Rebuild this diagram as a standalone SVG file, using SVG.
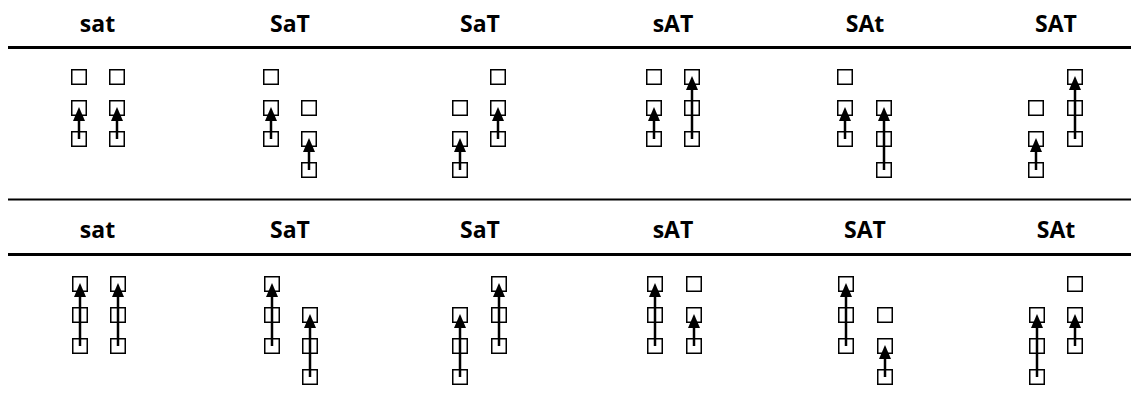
<svg xmlns="http://www.w3.org/2000/svg" width="1134" height="402" viewBox="0 0 1134 402">
<style>
.t{font-family:"Open Sans","Liberation Sans",sans-serif;font-weight:700;font-size:23px;text-anchor:middle;fill:#000}
.b{fill:#fff;stroke:#000;stroke-width:1.5}
.a{stroke:#000;stroke-width:2.5;fill:none;marker-end:url(#ah)}
.r{stroke:#000;fill:none}
</style>
<defs>
<marker id="ah" markerUnits="userSpaceOnUse" markerWidth="14" markerHeight="12" viewBox="0 0 14 12" refX="0" refY="6" orient="auto"><path d="M0,0 L14,6 L0,12 z" fill="#000"/></marker>
</defs>
<rect width="1134" height="402" fill="#fff"/>
<g id="rules">
<line class="r" x1="8" y1="47.5" x2="1131" y2="47.5" stroke-width="3"/>
<line class="r" x1="8" y1="199.5" x2="1131" y2="199.5" stroke-width="2" stroke="#222"/>
<line class="r" x1="8" y1="254.5" x2="1131" y2="254.5" stroke-width="3"/>
</g>
<g id="titles">
<text class="t" x="97.5" y="32">sat</text>
<text class="t" x="290" y="32">SaT</text>
<text class="t" x="480" y="32">SaT</text>
<text class="t" x="673" y="32">sAT</text>
<text class="t" x="865" y="32">SAt</text>
<text class="t" x="1056" y="32">SAT</text>
<text class="t" x="97.5" y="238">sat</text>
<text class="t" x="290" y="238">SaT</text>
<text class="t" x="480" y="238">SaT</text>
<text class="t" x="673" y="238">sAT</text>
<text class="t" x="865" y="238">SAT</text>
<text class="t" x="1056" y="238">SAt</text>
</g>
<!-- Row 1 boxes -->
<g id="r1p1">
<g id="r1p1a0"><rect class="b" x="71.75" y="69.75" width="14.5" height="14.5"/></g>
<g id="r1p1a1"><rect class="b" x="71.75" y="100.75" width="14.5" height="14.5"/></g>
<g id="r1p1a2"><rect class="b" x="71.75" y="131.75" width="14.5" height="14.5"/></g>
<g id="r1p1b0"><rect class="b" x="109.75" y="69.75" width="14.5" height="14.5"/></g>
<g id="r1p1b1"><rect class="b" x="109.75" y="100.75" width="14.5" height="14.5"/></g>
<g id="r1p1b2"><rect class="b" x="109.75" y="131.75" width="14.5" height="14.5"/></g>
</g>
<g id="r1p2">
<g id="r1p2a0"><rect class="b" x="263.75" y="69.75" width="14.5" height="14.5"/></g>
<g id="r1p2a1"><rect class="b" x="263.75" y="100.75" width="14.5" height="14.5"/></g>
<g id="r1p2a2"><rect class="b" x="263.75" y="131.75" width="14.5" height="14.5"/></g>
<g id="r1p2b1"><rect class="b" x="301.75" y="100.75" width="14.5" height="14.5"/></g>
<g id="r1p2b2"><rect class="b" x="301.75" y="131.75" width="14.5" height="14.5"/></g>
<g id="r1p2b3"><rect class="b" x="301.75" y="162.75" width="14.5" height="14.5"/></g>
</g>
<g id="r1p3">
<g id="r1p3a1"><rect class="b" x="452.75" y="100.75" width="14.5" height="14.5"/></g>
<g id="r1p3a2"><rect class="b" x="452.75" y="131.75" width="14.5" height="14.5"/></g>
<g id="r1p3a3"><rect class="b" x="452.75" y="162.75" width="14.5" height="14.5"/></g>
<g id="r1p3b0"><rect class="b" x="490.75" y="69.75" width="14.5" height="14.5"/></g>
<g id="r1p3b1"><rect class="b" x="490.75" y="100.75" width="14.5" height="14.5"/></g>
<g id="r1p3b2"><rect class="b" x="490.75" y="131.75" width="14.5" height="14.5"/></g>
</g>
<g id="r1p4">
<g id="r1p4a0"><rect class="b" x="646.75" y="69.75" width="14.5" height="14.5"/></g>
<g id="r1p4a1"><rect class="b" x="646.75" y="100.75" width="14.5" height="14.5"/></g>
<g id="r1p4a2"><rect class="b" x="646.75" y="131.75" width="14.5" height="14.5"/></g>
<g id="r1p4b0"><rect class="b" x="684.75" y="69.75" width="14.5" height="14.5"/></g>
<g id="r1p4b1"><rect class="b" x="684.75" y="100.75" width="14.5" height="14.5"/></g>
<g id="r1p4b2"><rect class="b" x="684.75" y="131.75" width="14.5" height="14.5"/></g>
</g>
<g id="r1p5">
<g id="r1p5a0"><rect class="b" x="837.75" y="69.75" width="14.5" height="14.5"/></g>
<g id="r1p5a1"><rect class="b" x="837.75" y="100.75" width="14.5" height="14.5"/></g>
<g id="r1p5a2"><rect class="b" x="837.75" y="131.75" width="14.5" height="14.5"/></g>
<g id="r1p5b1"><rect class="b" x="876.75" y="100.75" width="14.5" height="14.5"/></g>
<g id="r1p5b2"><rect class="b" x="876.75" y="131.75" width="14.5" height="14.5"/></g>
<g id="r1p5b3"><rect class="b" x="876.75" y="162.75" width="14.5" height="14.5"/></g>
</g>
<g id="r1p6">
<g id="r1p6a1"><rect class="b" x="1028.75" y="100.75" width="14.5" height="14.5"/></g>
<g id="r1p6a2"><rect class="b" x="1028.75" y="131.75" width="14.5" height="14.5"/></g>
<g id="r1p6a3"><rect class="b" x="1028.75" y="162.75" width="14.5" height="14.5"/></g>
<g id="r1p6b0"><rect class="b" x="1067.75" y="69.75" width="14.5" height="14.5"/></g>
<g id="r1p6b1"><rect class="b" x="1067.75" y="100.75" width="14.5" height="14.5"/></g>
<g id="r1p6b2"><rect class="b" x="1067.75" y="131.75" width="14.5" height="14.5"/></g>
</g>
<!-- Row 2 boxes -->
<g id="r2p1">
<g id="r2p1a0"><rect class="b" x="72.75" y="276.75" width="14.5" height="14.5"/></g>
<g id="r2p1a1"><rect class="b" x="72.75" y="307.75" width="14.5" height="14.5"/></g>
<g id="r2p1a2"><rect class="b" x="72.75" y="338.75" width="14.5" height="14.5"/></g>
<g id="r2p1b0"><rect class="b" x="110.75" y="276.75" width="14.5" height="14.5"/></g>
<g id="r2p1b1"><rect class="b" x="110.75" y="307.75" width="14.5" height="14.5"/></g>
<g id="r2p1b2"><rect class="b" x="110.75" y="338.75" width="14.5" height="14.5"/></g>
</g>
<g id="r2p2">
<g id="r2p2a0"><rect class="b" x="264.75" y="276.75" width="14.5" height="14.5"/></g>
<g id="r2p2a1"><rect class="b" x="264.75" y="307.75" width="14.5" height="14.5"/></g>
<g id="r2p2a2"><rect class="b" x="264.75" y="338.75" width="14.5" height="14.5"/></g>
<g id="r2p2b1"><rect class="b" x="302.75" y="307.75" width="14.5" height="14.5"/></g>
<g id="r2p2b2"><rect class="b" x="302.75" y="338.75" width="14.5" height="14.5"/></g>
<g id="r2p2b3"><rect class="b" x="302.75" y="369.75" width="14.5" height="14.5"/></g>
</g>
<g id="r2p3">
<g id="r2p3a1"><rect class="b" x="452.75" y="307.75" width="14.5" height="14.5"/></g>
<g id="r2p3a2"><rect class="b" x="452.75" y="338.75" width="14.5" height="14.5"/></g>
<g id="r2p3a3"><rect class="b" x="452.75" y="369.75" width="14.5" height="14.5"/></g>
<g id="r2p3b0"><rect class="b" x="491.75" y="276.75" width="14.5" height="14.5"/></g>
<g id="r2p3b1"><rect class="b" x="491.75" y="307.75" width="14.5" height="14.5"/></g>
<g id="r2p3b2"><rect class="b" x="491.75" y="338.75" width="14.5" height="14.5"/></g>
</g>
<g id="r2p4">
<g id="r2p4a0"><rect class="b" x="647.75" y="276.75" width="14.5" height="14.5"/></g>
<g id="r2p4a1"><rect class="b" x="647.75" y="307.75" width="14.5" height="14.5"/></g>
<g id="r2p4a2"><rect class="b" x="647.75" y="338.75" width="14.5" height="14.5"/></g>
<g id="r2p4b0"><rect class="b" x="686.75" y="276.75" width="14.5" height="14.5"/></g>
<g id="r2p4b1"><rect class="b" x="686.75" y="307.75" width="14.5" height="14.5"/></g>
<g id="r2p4b2"><rect class="b" x="686.75" y="338.75" width="14.5" height="14.5"/></g>
</g>
<g id="r2p5">
<g id="r2p5a0"><rect class="b" x="838.75" y="276.75" width="14.5" height="14.5"/></g>
<g id="r2p5a1"><rect class="b" x="838.75" y="307.75" width="14.5" height="14.5"/></g>
<g id="r2p5a2"><rect class="b" x="838.75" y="338.75" width="14.5" height="14.5"/></g>
<g id="r2p5b1"><rect class="b" x="877.75" y="307.75" width="14.5" height="14.5"/></g>
<g id="r2p5b2"><rect class="b" x="877.75" y="338.75" width="14.5" height="14.5"/></g>
<g id="r2p5b3"><rect class="b" x="877.75" y="369.75" width="14.5" height="14.5"/></g>
</g>
<g id="r2p6">
<g id="r2p6a1"><rect class="b" x="1029.75" y="307.75" width="14.5" height="14.5"/></g>
<g id="r2p6a2"><rect class="b" x="1029.75" y="338.75" width="14.5" height="14.5"/></g>
<g id="r2p6a3"><rect class="b" x="1029.75" y="369.75" width="14.5" height="14.5"/></g>
<g id="r2p6b0"><rect class="b" x="1067.75" y="276.75" width="14.5" height="14.5"/></g>
<g id="r2p6b1"><rect class="b" x="1067.75" y="307.75" width="14.5" height="14.5"/></g>
<g id="r2p6b2"><rect class="b" x="1067.75" y="338.75" width="14.5" height="14.5"/></g>
</g>
<g id="connectors">
<line class="a" x1="79" y1="139" x2="79" y2="121"/>
<line class="a" x1="117" y1="139" x2="117" y2="121"/>
<line class="a" x1="271" y1="139" x2="271" y2="121"/>
<line class="a" x1="309" y1="170" x2="309" y2="152"/>
<line class="a" x1="460" y1="170" x2="460" y2="152"/>
<line class="a" x1="498" y1="139" x2="498" y2="121"/>
<line class="a" x1="654" y1="139" x2="654" y2="121"/>
<line class="a" x1="692" y1="139" x2="692" y2="90"/>
<line class="a" x1="845" y1="139" x2="845" y2="121"/>
<line class="a" x1="884" y1="170" x2="884" y2="121"/>
<line class="a" x1="1036" y1="170" x2="1036" y2="152"/>
<line class="a" x1="1075" y1="139" x2="1075" y2="90"/>
<line class="a" x1="80" y1="346" x2="80" y2="297"/>
<line class="a" x1="118" y1="346" x2="118" y2="297"/>
<line class="a" x1="272" y1="346" x2="272" y2="297"/>
<line class="a" x1="310" y1="377" x2="310" y2="328"/>
<line class="a" x1="460" y1="377" x2="460" y2="328"/>
<line class="a" x1="499" y1="346" x2="499" y2="297"/>
<line class="a" x1="655" y1="346" x2="655" y2="297"/>
<line class="a" x1="694" y1="346" x2="694" y2="328"/>
<line class="a" x1="846" y1="346" x2="846" y2="297"/>
<line class="a" x1="885" y1="377" x2="885" y2="359"/>
<line class="a" x1="1037" y1="377" x2="1037" y2="328"/>
<line class="a" x1="1075" y1="346" x2="1075" y2="328"/>
</g>
</svg>
